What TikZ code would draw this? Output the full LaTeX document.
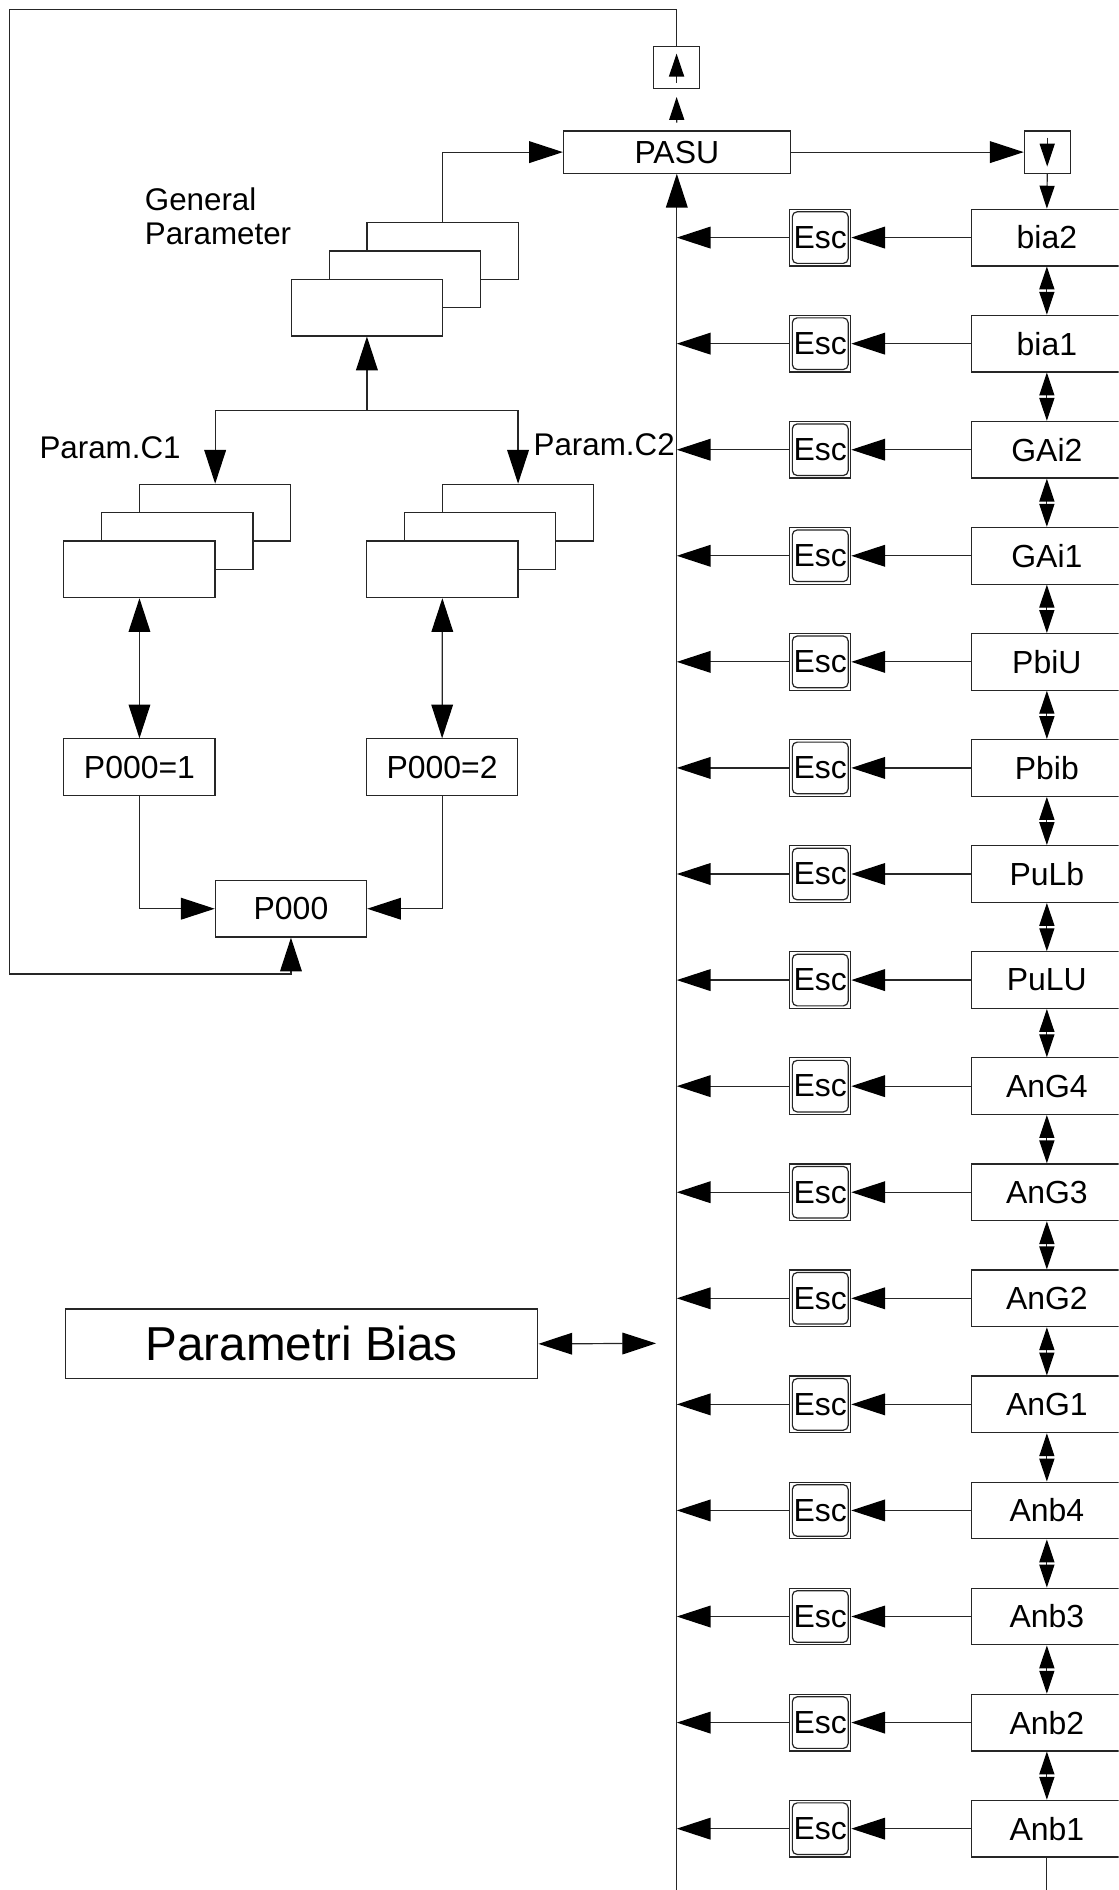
\documentclass[tikz,border=0pt]{standalone}
\usepackage{fontspec}
\setmainfont{Liberation Sans}
\usetikzlibrary{arrows.meta}
\tikzset{
  BigT/.tip={Triangle[length=28pt,width=18pt,color=black]},
  MedT/.tip={Triangle[length=19pt,width=12.5pt,color=black]},
}
\begin{document}
\begin{tikzpicture}[x=1pt,y=-1pt,
  ln/.style={draw=black!85, line width=1pt},
  bx/.style={draw=black!85, line width=1pt, fill=white, inner sep=0pt,
             font=\fontsize{26.5}{30}\selectfont},
  stk/.style={bx, minimum width=125.5pt, minimum height=47pt},
  rbox/.style={bx, minimum width=125pt, minimum height=47pt},
  escbox/.style={bx, minimum width=50.5pt, minimum height=47pt},
  lbl/.style={inner sep=0pt, font=\fontsize{26}{28.2}\selectfont},
]
\path[use as bounding box, fill=white] (0,0) rectangle (928,1568);
\clip (0,0) rectangle (928,1568);

% ---------- top ----------
\node[bx, minimum width=188pt, minimum height=35pt] (pasu) at (561.5,126.2) {PASU};
\node[bx, minimum width=38pt, minimum height=35pt] (upbox) at (561.3,56) {};
\node[bx, minimum width=38pt, minimum height=35pt] (downbox) at (868.8,126.2) {};
\draw[ln, -MedT, shorten <=5.5pt, shorten >=6.5pt] (upbox.south) -- (upbox.north);
\draw[ln, -MedT, shorten <=6pt, shorten >=6pt] (downbox.north) -- (downbox.south);
\draw[ln, -MedT, shorten <=6.5pt, shorten >=6.5pt] (pasu.north) -- (upbox.south);
\draw[ln, -BigT] (pasu.east) -- (downbox.west);

% ---------- left side ----------
\node[lbl, anchor=north west, align=left] (lgp) at (120,155.4) {General\\Parameter};
\node[stk] (gpback)  at (367.2,208.2) {};
\node[stk] (gpmid)   at (335.8,231.7) {};
\node[stk] (gpfront) at (304.4,255.2) {};

\node[lbl, anchor=base west] (lc1) at (32.6,380.1) {Param.C1};
\node[lbl, anchor=base west] (lc2) at (442.5,378) {Param.C2};

\node[stk] (c1back)  at (178.5,425.3) {};
\node[stk] (c1mid)   at (147.1,448.8) {};
\node[stk] (c1front) at (115.7,472.3) {};
\node[stk] (c2back)  at (429.8,425.3) {};
\node[stk] (c2mid)   at (398.4,448.8) {};
\node[stk] (c2front) at (367.0,472.3) {};

\node[stk] (p1)   at (115.7,636.5) {P000=1};
\node[stk] (p2)   at (366.8,636.5) {P000=2};
\node[stk] (p000) at (241.4,753.9) {P000};

\coordinate (jn) at (304.4,340.6);
\coordinate (tl) at (7.6,7.7);
\coordinate (lb) at (7.6,808);

\draw[ln, -BigT] (gpback.north) |- (pasu.west);
\draw[ln, -BigT] (jn) -- (gpfront.south);
\draw[ln, -BigT] (jn) -| (c1back.north);
\draw[ln, -BigT] (jn) -| (c2back.north);
\draw[ln, BigT-BigT] (c1front.south) -- (p1.north);
\draw[ln, BigT-BigT] (c2front.south) -- (p2.north);
\draw[ln, -BigT] (p1.south) |- (p000.west);
\draw[ln, -BigT] (p2.south) |- (p000.east);
\draw[ln, -BigT] (upbox.north) |- (tl) -- (lb) -| (p000.south);

% ---------- main vertical ----------
\coordinate (mainbot) at (561.5,1575);
\draw[ln, -BigT] (mainbot) -- (pasu.south);

% ---------- Parametri Bias ----------
\node[bx, minimum width=391.8pt, minimum height=58pt,
      font=\fontsize{39.5}{46}\selectfont] (pb) at (250.3,1114.9) {Parametri Bias};
\coordinate (pbend) at (544.3,1114.5);
\draw[ln, BigT-BigT] (pb.east) -- (pbend);

% ---------- right column ----------
\foreach \lab [count=\i] in {bia2,bia1,GAi2,GAi1,PbiU,Pbib,PuLb,PuLU,AnG4,AnG3,AnG2,AnG1,Anb4,Anb3,Anb2,Anb1}{
  \node[rbox] (n\i) at (868.5,{197.1+88*(\i-1)}) {\lab};
  \node[escbox] (e\i) at (680.5,{197.1+88*(\i-1)}) {Esc};
  \draw[ln, rounded corners=4pt] ([shift={(2.6pt,2.6pt)}]e\i.south west) rectangle ([shift={(-2.6pt,-2.6pt)}]e\i.north east);
  \coordinate (m\i) at (561.5,{197.1+88*(\i-1)});
  \draw[ln, -BigT] (n\i.west) -- (e\i.east);
  \draw[ln, -BigT] (e\i.west) -- (m\i);
}
\foreach \i in {1,...,15}{
  \pgfmathtruncatemacro{\j}{\i+1}
  \draw[ln, MedT-MedT] (n\i.south) -- (n\j.north);
}
\draw[ln, -MedT] (downbox.south) -- (n1.north);
\coordinate (rbot) at (868.5,1575);
\draw[ln] (n16.south) -- (rbot);
\end{tikzpicture}
\end{document}
